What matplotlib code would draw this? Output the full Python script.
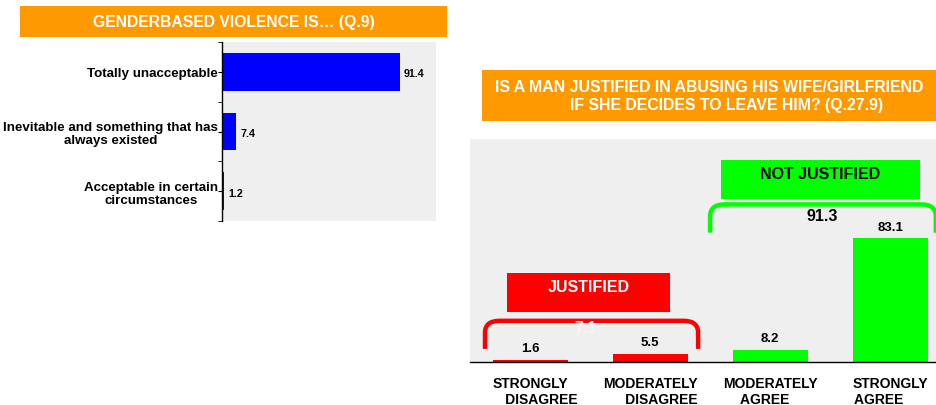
import matplotlib.pyplot as plt
from matplotlib.path import Path
from matplotlib.patches import PathPatch, Rectangle

plt.rcParams['font.family'] = ['Liberation Sans', 'DejaVu Sans']
plt.rcParams['font.weight'] = 'bold'

# left chart data
gbv_labels = ["Totally unacceptable",
              "Inevitable and something that has\nalways existed",
              "Acceptable in certain\ncircumstances"]
gbv_values = [91.4, 7.4, 1.2]

# right chart data
abuse_labels = ["STRONGLY\n      DISAGREE", "MODERATELY\n      DISAGREE",
                "MODERATELY\nAGREE   ", "STRONGLY\nAGREE      "]
abuse_values = [1.6, 5.5, 8.2, 83.1]
abuse_colors = ["#ff0000", "#ff0000", "#00ff00", "#00ff00"]
justified_total = 7.1
not_justified_total = 91.3

W, H = 937, 406
fig = plt.figure(figsize=(W / 100, H / 100), dpi=100)
bg = "#efefef"
orange = "#ff9900"


def fig_box(x0, y0, x1, y1):
    # pixel box -> figure fraction [left, bottom, width, height]
    return [x0 / W, 1 - y1 / H, (x1 - x0) / W, (y1 - y0) / H]


# ---- title boxes
for (x0, y0, x1, y1), txt, fs in [((20, 7, 447, 38), "GENDERBASED VIOLENCE IS\u2026 (Q.9)", 11.3),
                                  ((482, 71, 937, 122),
                                   "IS A MAN JUSTIFIED IN ABUSING HIS WIFE/GIRLFRIEND\n"
                                   "        IF SHE DECIDES TO LEAVE HIM? (Q.27.9)", 11.4)]:
    b = fig_box(x0, y0, x1, y1)
    fig.patches.append(Rectangle((b[0], b[1]), b[2], b[3], transform=fig.transFigure,
                                 facecolor=orange, edgecolor="none"))
    fig.text(b[0] + b[2] / 2, b[1] + b[3] / 2, txt, color="white", fontsize=fs,
             ha="center", va="center", linespacing=1.2)

# ---- left chart
ax1 = fig.add_axes(fig_box(222, 43, 436, 222))
ax1.set_facecolor(bg)
ypos = list(range(len(gbv_values)))
ax1.barh(ypos, gbv_values, height=0.63, color="#0000ff")
ax1.set_xlim(0, 110)
ax1.set_ylim(2.5, -0.5)
for s in ["top", "right", "bottom"]:
    ax1.spines[s].set_visible(False)
ax1.spines["left"].set_linewidth(1)
ax1.set_xticks([])
ax1.set_yticks(ypos)
ax1.set_yticklabels(gbv_labels, fontsize=9.6, multialignment="center", linespacing=1.1)
ax1.tick_params(axis="y", which="major", length=3, pad=0)
ax1.set_yticks([-0.5, 0.5, 1.5, 2.5], minor=True)
ax1.tick_params(axis="y", which="minor", length=3)
for y, v in zip(ypos, gbv_values):
    ax1.annotate(f"{v:.1f}", (v, y), xytext=(3, -1), textcoords="offset points",
                 fontsize=7.7, va="center", ha="left")

# ---- right chart
ax2 = fig.add_axes(fig_box(470, 140, 937, 363))
ax2.set_facecolor(bg)
xpos = list(range(len(abuse_values)))
ax2.bar(xpos, abuse_values, width=0.625, color=abuse_colors)
ax2.set_xlim(-0.5, 3.39)
ax2.set_ylim(0, 150)
for s in ["top", "right", "left"]:
    ax2.spines[s].set_visible(False)
ax2.spines["bottom"].set_linewidth(1)
ax2.set_yticks([])
ax2.set_xticks(xpos)
ax2.set_xticklabels(abuse_labels, fontsize=10, linespacing=1.2)
ax2.tick_params(axis="x", length=0, pad=10)
for x, v in zip(xpos, abuse_values):
    ax2.annotate(f"{v:.1f}", (x, v), xytext=(0, 4), textcoords="offset points",
                 fontsize=9.5, ha="center", va="bottom")


def bracket(ax, x0, x1, ybot, ytop, color):
    rx, ry = 0.12, 8
    verts = [(x0, ybot), (x0, ytop - ry), (x0, ytop), (x0 + rx, ytop),
             (x1 - rx, ytop), (x1, ytop), (x1, ytop - ry), (x1, ybot)]
    codes = [Path.MOVETO, Path.LINETO, Path.CURVE3, Path.CURVE3,
             Path.LINETO, Path.CURVE3, Path.CURVE3, Path.LINETO]
    ax.add_patch(PathPatch(Path(verts, codes), facecolor="none", edgecolor=color,
                           lw=3.2, capstyle="butt", joinstyle="round", clip_on=False, zorder=3))


# not justified group
ax2.add_patch(Rectangle((1.59, 109.5), 1.66, 26.5, facecolor="#00ff00", edgecolor="none"))
ax2.text(2.42, 127, "NOT JUSTIFIED", fontsize=11.5, ha="center", va="center")
bracket(ax2, 1.5, 3.38, 87, 106, "#00ff00")
ax2.text(2.43, 98.5, f"{not_justified_total:.1f}", fontsize=11.5, ha="center", va="center")

# justified group
ax2.add_patch(Rectangle((-0.19, 33.8), 1.36, 26.2, facecolor="#ff0000", edgecolor="none"))
ax2.text(0.49, 51, "JUSTIFIED", fontsize=11.5, color="white", ha="center", va="center")
bracket(ax2, -0.375, 1.4, 8.8, 27.7, "#ff0000")
# total label sits behind the bracket and nearly vanishes on the pale background
ax2.text(0.46, 23, f"{justified_total:.1f}", fontsize=11.5, color="#f6f6f6",
         ha="center", va="center", zorder=4)

fig.savefig("out.png", dpi=100)
